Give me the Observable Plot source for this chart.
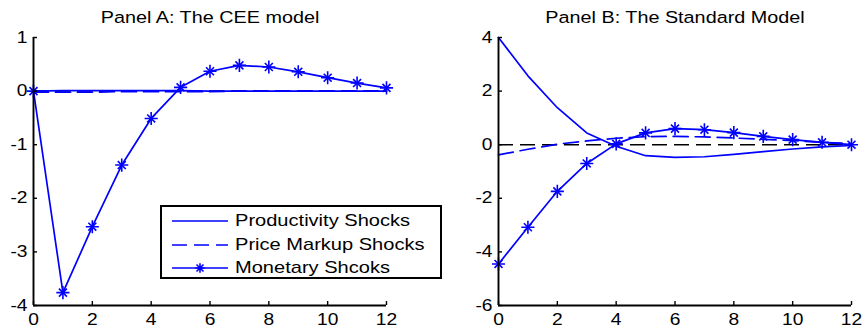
<!DOCTYPE html>
<html>
<head>
<meta charset="utf-8">
<script src="https://cdn.jsdelivr.net/npm/d3@7"></script>
<script src="https://cdn.jsdelivr.net/npm/@observablehq/plot@0.6"></script>
<style>
  body { margin: 0; background: #fff; }
  #wrap { position: relative; width: 865px; height: 328px; font-family: "Liberation Sans", Arial, sans-serif; overflow: hidden; }
  #wrap > svg { position: absolute; top: 0; }
  #legend { position: absolute; left: 160px; top: 205px; width: 278px; height: 70px; border: 2px solid #000; background: #fff; }
  #legend .row { position: absolute; left: 0; height: 20px; }
  #legend .row svg { position: absolute; left: 8px; top: 0; }
  #legend .row span { position: absolute; left: 73px; top: 0; line-height: 20px; font-size: 17px; white-space: nowrap; transform: scaleX(1.18); transform-origin: 0 50%; color: #000; }
</style>
</head>
<body>
<div id="wrap"></div>
<script>
// ---- data ----
const periods = [0, 1, 2, 3, 4, 5, 6, 7, 8, 9, 10, 11, 12];
const xTicks = [0, 2, 4, 6, 8, 10, 12];
const yTicksA = [-4, -3, -2, -1, 0, 1];
const yTicksB = [-6, -4, -2, 0, 2, 4];
const titles = ["Panel A: The CEE model", "Panel B: The Standard Model"];
const legendLabels = ["Productivity Shocks", "Price Markup Shocks", "Monetary Shcoks"];

// Panel A: CEE model
const ceeProductivity = [0, 0.01, 0.01, 0.01, 0.01, 0.01, 0, 0, 0, 0, 0, 0, 0];
const ceeMarkup = [-0.02, -0.02, -0.02, -0.01, -0.01, -0.01, -0.01, 0, 0, 0, 0, 0, 0];
const ceeMonetary = [0, -3.76, -2.53, -1.38, -0.51, 0.07, 0.37, 0.48, 0.45, 0.36, 0.25, 0.15, 0.06];

// Panel B: Standard model
const stdProductivity = [4.0, 2.57, 1.38, 0.44, -0.06, -0.41, -0.47, -0.45, -0.36, -0.26, -0.16, -0.08, -0.03];
const stdMarkup = [-0.38, -0.17, 0.02, 0.14, 0.24, 0.3, 0.31, 0.29, 0.25, 0.2, 0.15, 0.09, 0.04];
const stdMonetary = [-4.45, -3.08, -1.74, -0.7, 0.03, 0.44, 0.6, 0.56, 0.45, 0.31, 0.19, 0.09, 0.0];

// ---- styling ----
const BLUE = "#0000ff";
const DASH = "15,7";
const SX = 1.2;
const fmt = d => String(d);

function rows(values) { return periods.map((p, i) => ({ x: p, y: values[i] })); }

function panel({ title, yDomain, yTicks, prod, markup, mon, left, width, marginLeft, marginRight }) {
  const marginTop = 37, marginBottom = 23, height = 328;
  const innerW = width - marginLeft - marginRight;
  const innerH = height - marginTop - marginBottom;
  const star = { x: "x", y: "y", stroke: BLUE, strokeWidth: 1.6, r: 4.3 };
  const svg = Plot.plot({
    width, height, marginTop, marginBottom, marginLeft, marginRight,
    style: { fontFamily: "'Liberation Sans', Arial, sans-serif", fontSize: "16px", color: "#000", background: "transparent" },
    x: { domain: [0, 12], label: null },
    y: { domain: yDomain, label: null },
    marks: [
      Plot.ruleY([0], { stroke: "#000", strokeWidth: 1.5, strokeDasharray: DASH }),
      Plot.line(rows(prod), { x: "x", y: "y", stroke: BLUE, strokeWidth: 1.7 }),
      Plot.line(rows(markup), { x: "x", y: "y", stroke: BLUE, strokeWidth: 1.7, strokeDasharray: DASH }),
      Plot.line(rows(mon), { x: "x", y: "y", stroke: BLUE, strokeWidth: 1.7 }),
      Plot.dot(rows(mon), { ...star, symbol: "plus" }),
      Plot.dot(rows(mon), { ...star, symbol: "times", r: 3.7 }),
      Plot.ruleX([0], { stroke: "#000", strokeWidth: 1.9 }),
      Plot.ruleY([yDomain[0]], { stroke: "#000", strokeWidth: 1.9 }),
      Plot.tickX(xTicks, { x: d => d, stroke: "#000", strokeWidth: 1.4, insetTop: innerH - 4 }),
      Plot.tickY(yTicks, { y: d => d, stroke: "#000", strokeWidth: 1.4, insetRight: innerW - 4 }),
      Plot.axisX(xTicks, { tickSize: 0, tickPadding: 8, fontSize: 16, tickFormat: fmt, label: null }),
      Plot.axisY(yTicks, { tickSize: 0, tickPadding: 6, fontSize: 16, tickFormat: fmt, label: null }),
      Plot.text([title], { frameAnchor: "top", dy: -20, lineAnchor: "middle", fontSize: 16.5, fill: "#000" })
    ]
  });
  svg.style.left = left + "px";
  d3.select(svg).selectAll("text").each(function () {
    const t = this.getAttribute("transform") || "";
    this.setAttribute("transform", t + ` scale(${SX},1)`);
  });
  return svg;
}

const wrap = document.getElementById("wrap");
wrap.appendChild(panel({ title: titles[0], yDomain: [-4, 1], yTicks: yTicksA,
  prod: ceeProductivity, markup: ceeMarkup, mon: ceeMonetary,
  left: 0, width: 432, marginLeft: 33, marginRight: 46 }));
wrap.appendChild(panel({ title: titles[1], yDomain: [-6, 4], yTicks: yTicksB,
  prod: stdProductivity, markup: stdMarkup, mon: stdMonetary,
  left: 432, width: 433, marginLeft: 66, marginRight: 14 }));

// legend (HTML overlay, spans past panel A like the original)
const legend = document.createElement("div");
legend.id = "legend";
const rowTops = [4, 27.5, 51];
const styles = [{ dash: null, marker: false }, { dash: DASH, marker: false }, { dash: null, marker: true }];
legendLabels.forEach((lab, i) => {
  const row = document.createElement("div");
  row.className = "row";
  row.style.top = rowTops[i] + "px";
  row.style.width = "278px";
  const s = d3.create("svg").attr("width", 60).attr("height", 20);
  s.append("line").attr("x1", 2).attr("x2", 58).attr("y1", 10).attr("y2", 10)
    .attr("stroke", BLUE).attr("stroke-width", 1.7).attr("stroke-dasharray", styles[i].dash);
  if (styles[i].marker) {
    const g = s.append("g").attr("transform", "translate(30,10)").attr("stroke", BLUE).attr("stroke-width", 1.6);
    g.append("path").attr("d", "M-4.7,0H4.7M0,-4.7V4.7M-3.5,-3.5L3.5,3.5M-3.5,3.5L3.5,-3.5");
  }
  row.appendChild(s.node());
  const span = document.createElement("span");
  span.textContent = lab;
  row.appendChild(span);
  legend.appendChild(row);
});
wrap.appendChild(legend);
</script>
</body>
</html>
